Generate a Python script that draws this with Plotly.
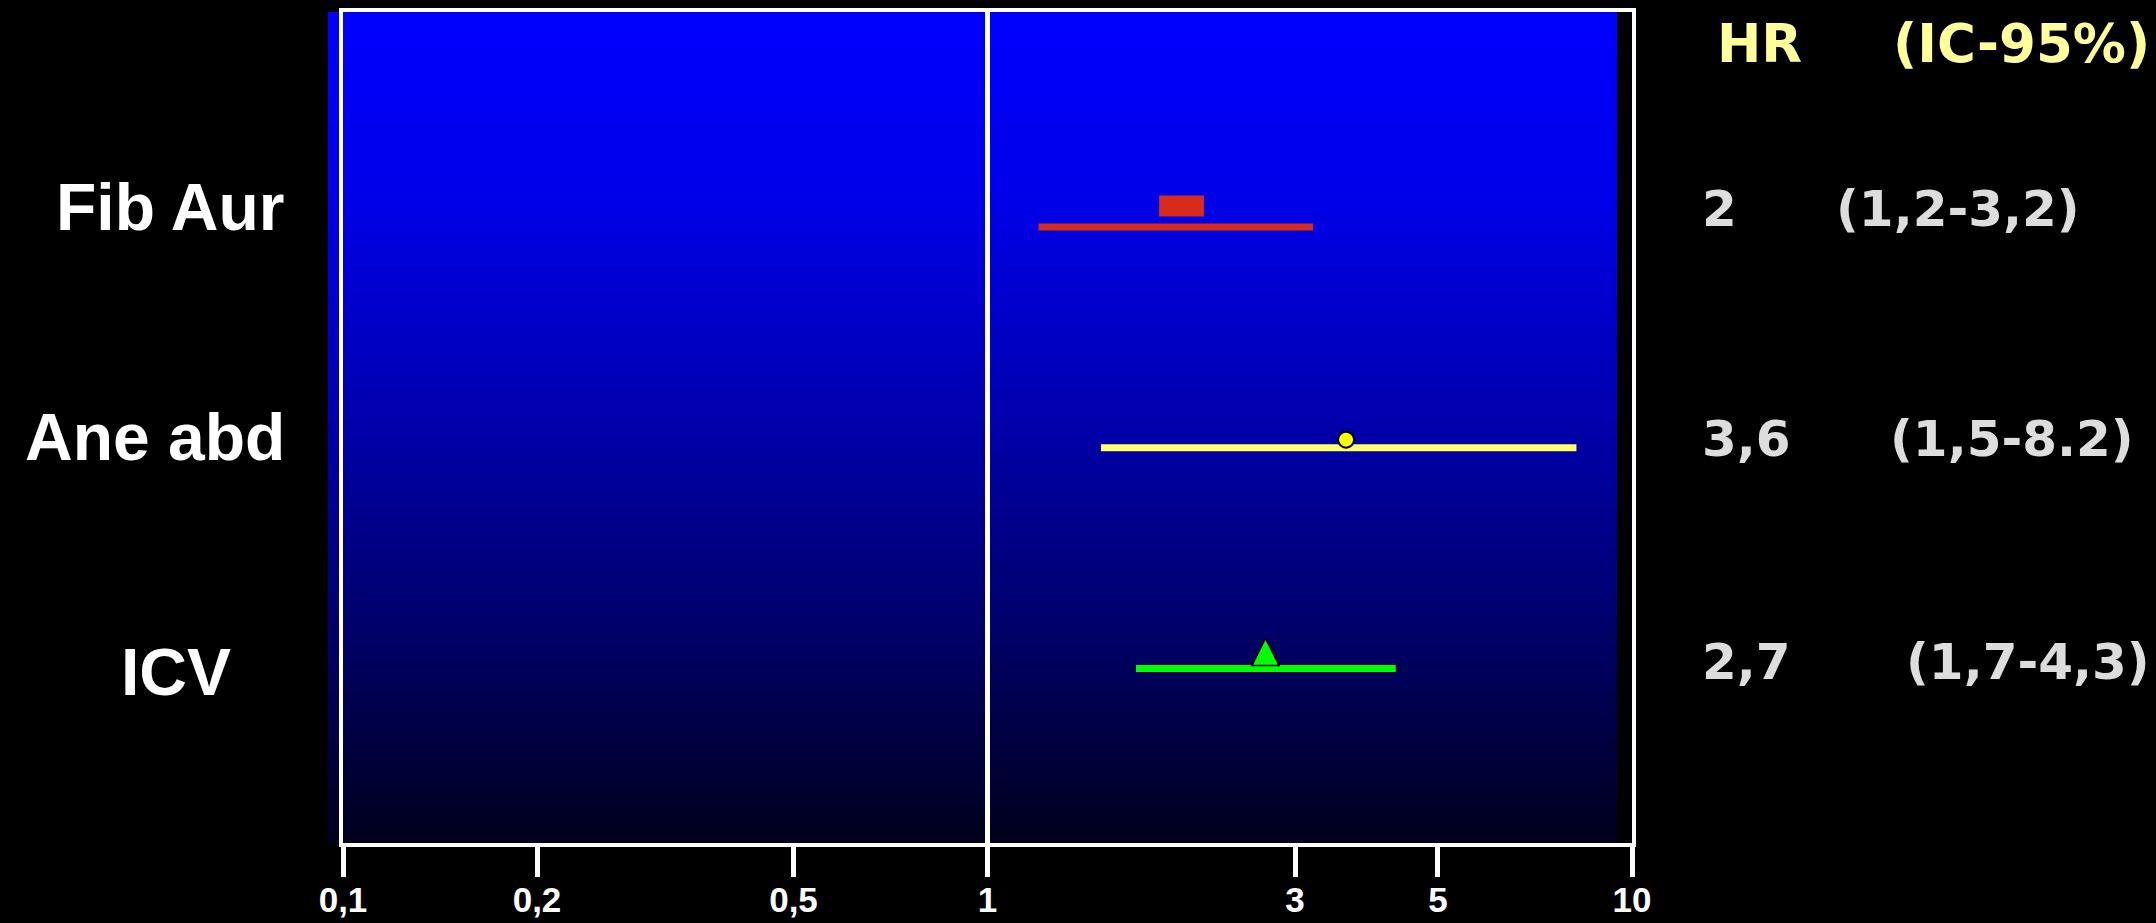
import numpy as np
import plotly.graph_objects as go

# ---------------- data ----------------
categories = ["Fib Aur", "Ane abd", "ICV"]
hr = [2.0, 3.6, 2.7]
ci_low = [1.2, 1.5, 1.7]
ci_high = [3.2, 8.2, 4.3]
hr_text = ["2", "3,6", "2,7"]
ci_text = ["(1,2-3,2)", "(1,5-8.2)", "(1,7-4,3)"]
header_labels = ["HR", "(IC-95%)"]
tick_values = [0.1, 0.2, 0.5, 1, 3, 5, 10]
tick_labels = ["0,1", "0,2", "0,5", "1", "3", "5", "10"]
null_value = 1

# ---------------- layout / style ----------------
W, H = 2156, 923
L, R, T, B = 328, 1632, 12, 843          # outer plot area (px)
PW, PH = R - L, B - T
DATA_LEFT = 343                           # frame left edge (px)
GRAD_RIGHT = 1617                         # gradient right edge (px)
ROW_PX = 220.75                           # px between rows
FIRST_ROW_PX = 226.9                      # px of first row line


def px(x):
    return (x - L) / PW


def py(y):
    return (B - y) / PH


y_top = 1 - (FIRST_ROW_PX - T) / ROW_PX
y_bottom = len(categories) + (B - (FIRST_ROW_PX + ROW_PX * (len(categories) - 1))) / ROW_PX

line_colors = ["#D92B1B", "#FFFF66", "#00FF00"]
marker_styles = [
    dict(symbol="line-ew", size=32, color="#D92B1B", line=dict(color="#D92B1B", width=21)),
    dict(symbol="circle", size=16, color="#FFFF00", line=dict(color="#000000", width=2)),
    dict(symbol="arrow-up", size=27, color="#00FF00", line=dict(color="#000000", width=1.5)),
]
marker_offset_px = [21, 8, 30]
label_anchor = [("right", 287), ("right", 287), ("center", 176)]
label_yshift = [20, 11, -4]
text_yshift = [18, 9, 6]
hr_left_px = 1700
ci_left_px = [1834, 1888, 1904]

fig = go.Figure()

# background gradient (blue -> near black)
N = 400
zgrad = [[v, v] for v in np.linspace(0, 1, N)]
fig.add_trace(go.Heatmap(
    z=zgrad, xaxis="x", yaxis="y", showscale=False, hoverinfo="skip",
    colorscale=[[0, "#00001C"], [0.25, "#000068"], [0.5, "#0000AA"],
                [0.77, "#0000E8"], [1, "#0000FF"]],
    zmin=0, zmax=1, zsmooth=False,
))

# CI lines and point markers
for i, cat in enumerate(categories):
    row = i + 1
    fig.add_trace(go.Scatter(
        x=[ci_low[i], ci_high[i]], y=[row, row], mode="lines",
        line=dict(color=line_colors[i], width=7),
        xaxis="x2", yaxis="y2", showlegend=False, hoverinfo="skip",
    ))
    fig.add_trace(go.Scatter(
        x=[hr[i]], y=[row], mode="markers", marker=marker_styles[i],
        xaxis="x2", yaxis=f"y{3 + i}", showlegend=False, name=cat,
    ))

layout = dict(
    width=W, height=H,
    margin=dict(l=L, r=W - R, t=T, b=H - B, pad=0, autoexpand=False),
    paper_bgcolor="#000000", plot_bgcolor="rgba(0,0,0,0)",
    showlegend=False,
    xaxis=dict(domain=[0, px(GRAD_RIGHT)], range=[-0.5, 1.5], visible=False,
               anchor="y", fixedrange=True, automargin=False),
    yaxis=dict(domain=[0, 1], range=[-0.5, N - 0.5], visible=False,
               anchor="x", fixedrange=True, automargin=False),
    xaxis2=dict(
        domain=[px(DATA_LEFT), 1], anchor="y2", type="log", range=[-1, 1],
        tickvals=tick_values, ticktext=tick_labels,
        ticks="outside", ticklen=30, tickwidth=5, tickcolor="#FFFFFF",
        ticklabelstandoff=-7,
        showline=True, linecolor="#FFFFFF", linewidth=4, mirror=True,
        showgrid=False, zeroline=False, automargin=False,
        tickfont=dict(family="Liberation Sans", size=35, color="#FFFFFF", weight="bold"),
    ),
    yaxis2=dict(
        domain=[0, 1], anchor="x2", range=[y_bottom, y_top],
        showline=True, linecolor="#FFFFFF", linewidth=4, mirror=True,
        showticklabels=False, ticks="", showgrid=False, zeroline=False,
        automargin=False,
    ),
)
for i in range(len(categories)):
    s = marker_offset_px[i] / ROW_PX
    layout[f"yaxis{3 + i}"] = dict(
        overlaying="y2", anchor="x2", range=[y_bottom + s, y_top + s],
        visible=False, showgrid=False, zeroline=False, automargin=False,
    )
fig.update_layout(**layout)

# null line at HR = 1
fig.add_shape(type="line", xref="x2", yref="y2 domain", x0=null_value, x1=null_value,
              y0=0, y1=1, line=dict(color="#FFFFFF", width=5), layer="above")

annotations = []
label_font = dict(family="Liberation Sans", size=66, color="#FFFFFF", weight="bold")
value_font = dict(family="DejaVu Sans", size=50, color="#DDDDDD", weight="bold")
header_font = dict(family="DejaVu Sans", size=53, color="#FFFF99", weight="bold")
for i, cat in enumerate(categories):
    row = i + 1
    anchor, ax = label_anchor[i]
    annotations.append(dict(text=cat, x=px(ax), xref="paper", xanchor=anchor,
                            y=row, yref="y2", yanchor="middle", yshift=label_yshift[i],
                            showarrow=False, font=label_font))
    annotations.append(dict(text=hr_text[i], x=px(hr_left_px), xref="paper", xanchor="left",
                            y=row, yref="y2", yanchor="middle", yshift=text_yshift[i],
                            showarrow=False, font=value_font))
    annotations.append(dict(text=ci_text[i], x=px(ci_left_px[i]), xref="paper", xanchor="left",
                            y=row, yref="y2", yanchor="middle", yshift=text_yshift[i],
                            showarrow=False, font=value_font))
header_x = [1759, 2021]
for lab, hx in zip(header_labels, header_x):
    annotations.append(dict(text=lab, x=px(hx), xref="paper", xanchor="center",
                            y=py(43), yref="paper", yanchor="middle",
                            showarrow=False, font=header_font))
fig.update_layout(annotations=annotations)

fig.write_html(
    "out.html",
    config={"displayModeBar": False},
    post_script="document.body.style.margin='0';document.body.style.overflow='hidden';",
)
